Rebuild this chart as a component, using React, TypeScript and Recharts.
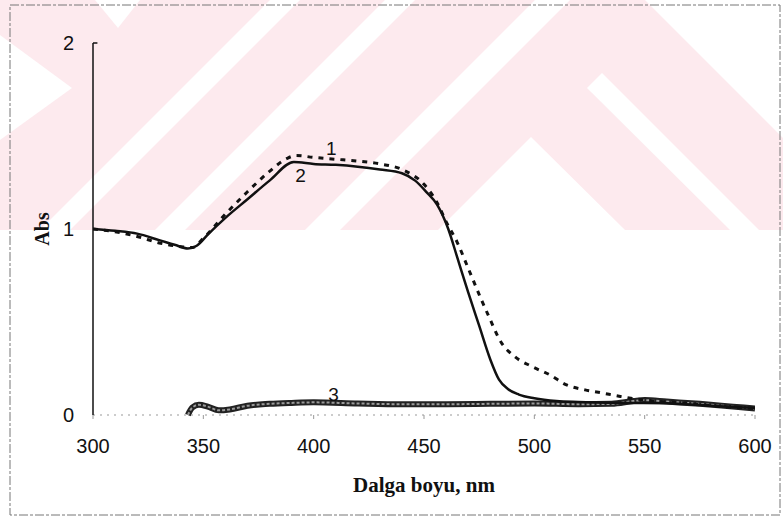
import React from "react";
import {
  LineChart,
  Line,
  XAxis,
  YAxis,
  ReferenceDot,
  ReferenceLine,
} from "recharts";

// curve 1 (dashed)
const wl1 = [300, 310, 320, 330, 340, 345, 350, 360, 370, 380, 388, 392, 400, 410, 420, 430, 440, 450, 456, 460, 465, 470, 476, 479, 485, 491, 499, 507, 514, 523, 530, 539, 546, 555, 565, 580, 600];
const abs1 = [1.0, 0.985, 0.96, 0.925, 0.905, 0.9, 0.95, 1.08, 1.2, 1.31, 1.38, 1.395, 1.385, 1.375, 1.365, 1.35, 1.32, 1.24, 1.14, 1.04, 0.93, 0.79, 0.62, 0.54, 0.39, 0.315, 0.26, 0.216, 0.165, 0.135, 0.12, 0.1, 0.086, 0.075, 0.068, 0.05, 0.035];

// curve 2 (solid)
const wl2 = [300, 310, 320, 330, 337, 343, 347, 352, 360, 370, 380, 391, 400, 410, 420, 430, 440, 446, 451, 456, 461, 465, 470, 475, 480, 484, 488, 493, 500, 510, 520, 540, 560, 580, 600];
const abs2 = [1.0, 0.99, 0.975, 0.94, 0.915, 0.895, 0.91, 0.97, 1.06, 1.16, 1.26, 1.36, 1.35, 1.345, 1.335, 1.32, 1.3, 1.26, 1.2, 1.13, 1.0, 0.85, 0.66, 0.48, 0.3, 0.19, 0.14, 0.11, 0.09, 0.075, 0.07, 0.065, 0.063, 0.05, 0.038];

// curve 3 (thick, near baseline)
const wl3 = [343, 345, 348, 352, 357, 362, 370, 380, 390, 400, 420, 440, 460, 480, 500, 520, 535, 545, 550, 560, 575, 590, 600];
const abs3 = [0.0, 0.04, 0.055, 0.045, 0.025, 0.03, 0.05, 0.06, 0.065, 0.068, 0.062, 0.058, 0.058, 0.06, 0.062, 0.058, 0.06, 0.075, 0.08, 0.072, 0.06, 0.045, 0.035];

const xTicks = [300, 350, 400, 450, 500, 550, 600];
const yTicks = [0, 1, 2];

const series1 = wl1.map((x, i) => ({ x, y: abs1[i] }));
const series2 = wl2.map((x, i) => ({ x, y: abs2[i] }));
const series3 = wl3.map((x, i) => ({ x, y: abs3[i] }));

const tickFont = { fontFamily: "Liberation Sans, Arial, sans-serif", fontSize: 20, fill: "#111" };
const serifBold = { fontFamily: "Liberation Serif, Times New Roman, serif", fontWeight: 700, fill: "#111" };

const Watermark = () => (
  <svg width={783} height={520} style={{ position: "absolute", left: 0, top: 0 }}>
    <rect x={0} y={0} width={783} height={230} fill="#fdeaee" />
    <g fill="#ffffff">
      <polygon points="270,0 300,0 70,230 40,230" />
      <polygon points="385,0 415,0 185,230 155,230" />
      <polygon points="535,0 570,0 340,230 305,230" />
      <polygon points="95,0 140,0 118,28" />
      <polygon points="0,35 72,88 0,140" />
      <polygon points="531,137 625,230 438,230" />
      <polygon points="587,88 602,73 759,230 730,230" />
      <polygon points="645,0 783,0 783,138" />
    </g>
    <rect x={10} y={5} width={770} height={510} fill="none" stroke="#777" strokeWidth={1} strokeDasharray="9 2 3 2" />
  </svg>
);

export default function App() {
  return (
    <div style={{ position: "relative", width: 783, height: 520, background: "#fff" }}>
      <style>{`body{margin:0}`}</style>
      <Watermark />
      <div style={{ position: "absolute", left: 0, top: 0 }}>
        <LineChart width={783} height={520} margin={{ top: 43, right: 28, left: 33, bottom: 43 }}>
          <XAxis
            type="number"
            dataKey="x"
            domain={[300, 600]}
            ticks={xTicks}
            allowDataOverflow
            height={62}
            axisLine={{ stroke: "#999", strokeDasharray: "2 5" }}
            tickLine={{ stroke: "#999" }}
            tickSize={4}
            tickMargin={20}
            tick={tickFont}
            label={{ value: "Dalga boyu, nm", position: "bottom", offset: 0, style: { ...serifBold, fontSize: 21 } }}
          />
          <YAxis
            type="number"
            dataKey="y"
            domain={[0, 2]}
            ticks={yTicks}
            width={60}
            axisLine={{ stroke: "#111", strokeWidth: 1.5 }}
            tickLine={false}
            tickSize={0}
            tickMargin={19}
            tick={tickFont}
            label={{ value: "Abs", angle: -90, position: "insideLeft", offset: 9, style: { ...serifBold, fontSize: 20, textAnchor: "middle" } }}
          />
          <ReferenceLine segment={[{ x: 300, y: 2 }, { x: 302, y: 2 }]} stroke="#111" strokeWidth={1.5} />
          <Line
            data={series3}
            dataKey="y"
            type="monotone"
            stroke="#222"
            strokeWidth={6}
            dot={false}
            isAnimationActive={false}
          />
          <Line
            data={series3}
            dataKey="y"
            type="monotone"
            stroke="#9a9a9a"
            strokeWidth={2}
            strokeDasharray="3 2"
            dot={false}
            isAnimationActive={false}
          />
          <Line
            data={series1}
            dataKey="y"
            type="monotone"
            stroke="#111"
            strokeWidth={3}
            strokeDasharray="5 6"
            dot={false}
            isAnimationActive={false}
          />
          <Line
            data={series2}
            dataKey="y"
            type="monotone"
            stroke="#111"
            strokeWidth={2.5}
            dot={false}
            isAnimationActive={false}
          />
          <ReferenceDot x={408} y={1.435} r={0} label={{ value: "1", position: "center", style: { ...tickFont, fontSize: 19 } }} />
          <ReferenceDot x={394} y={1.29} r={0} label={{ value: "2", position: "center", style: { ...tickFont, fontSize: 19 } }} />
          <ReferenceDot x={409} y={0.11} r={0} label={{ value: "3", position: "center", style: { ...tickFont, fontSize: 19 } }} />
        </LineChart>
      </div>
    </div>
  );
}
